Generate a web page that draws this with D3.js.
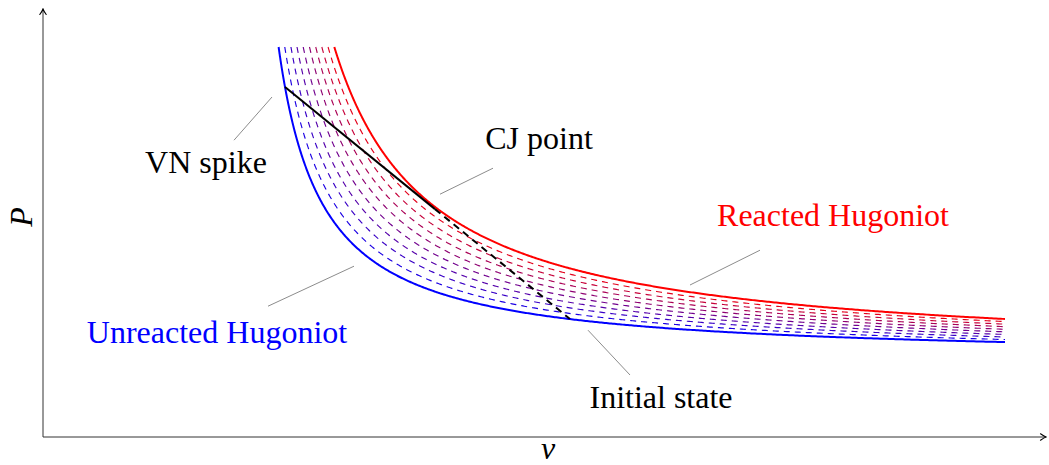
<!DOCTYPE html>
<html>
<head>
<meta charset="utf-8">
<script src="https://cdn.jsdelivr.net/npm/d3@7"></script>
<style>
  html, body { margin: 0; padding: 0; background: #fff; }
  svg { display: block; }
  text { font-family: "Liberation Serif", "Times New Roman", serif; }
</style>
</head>
<body>
<svg id="chart" width="1049" height="465"></svg>
<script>
// Hugoniot family P(v) = c + a / (v - b), from the unreacted curve (first)
// to the reacted curve (last); the eight in between are partially reacted.
const curveA = [3.41, 3.85, 4.29, 4.72, 5.16, 5.60, 6.04, 6.47, 6.91, 7.35];
const curveB = [1.920, 1.925, 1.930, 1.935, 1.940, 1.946, 1.951, 1.956, 1.961, 1.966];
const curveC = [1.930, 1.937, 1.943, 1.950, 1.957, 1.963, 1.970, 1.977, 1.983, 1.990];
const curveReacted = [0, 0.111, 0.222, 0.333, 0.444, 0.556, 0.667, 0.778, 0.889, 1];

// plotted range of the curves
const pressureMax = 9.75;
const volumeMax = 9.62;

// Rayleigh line: VN spike -> CJ point -> initial state, as [v, P]
const vnSpike = [2.42, 8.75];
const cjVolume = 3.92;
const initialState = [5.27, 2.95];

// labels [text, v, P, colour] and their leader lines [v1, P1, v2, P2]
const labelText = ["VN spike", "CJ point", "Reacted Hugoniot", "Unreacted Hugoniot", "Initial state"];
const labelV = [1.63, 4.96, 7.90, 1.74, 6.18];
const labelP = [6.60, 7.20, 5.28, 2.34, 0.72];
const labelColour = ["#000", "#000", "#ff0000", "#0000ff", "#000"];
const leaderFrom = [[1.91, 7.42], [3.97, 6.07], [6.47, 3.80], [2.25, 3.27], [5.45, 2.67]];
const leaderTo = [[2.29, 8.50], [4.50, 6.72], [7.17, 4.67], [3.11, 4.27], [5.87, 1.55]];

const svg = d3.select("#chart");
const x = d3.scaleLinear().domain([0, 10]).range([43, 1043]);
const y = d3.scaleLinear().domain([0, 10]).range([437, 37]);

// arrow head for the axes
svg.append("defs").append("marker")
  .attr("id", "arrow")
  .attr("viewBox", "-7 -4 8 8")
  .attr("refX", 0).attr("refY", 0)
  .attr("markerWidth", 8).attr("markerHeight", 8)
  .attr("markerUnits", "userSpaceOnUse")
  .attr("orient", "auto")
  .append("path")
  .attr("d", "M-5.5,-3.2 Q-1.8,-0.6 0,0 Q-1.8,0.6 -5.5,3.2")
  .attr("fill", "none")
  .attr("stroke", "#000")
  .attr("stroke-width", 1.1)
  .attr("stroke-linecap", "round");

// axes
svg.append("line")
  .attr("x1", x(0)).attr("y1", y(0))
  .attr("x2", x(10.03)).attr("y2", y(0))
  .attr("stroke", "#333").attr("stroke-width", 1)
  .attr("marker-end", "url(#arrow)");
svg.append("line")
  .attr("x1", x(0)).attr("y1", y(0))
  .attr("x2", x(0)).attr("y2", y(10.7))
  .attr("stroke", "#333").attr("stroke-width", 1)
  .attr("marker-end", "url(#arrow)");

svg.append("text")
  .attr("x", x(5.05)).attr("y", 459)
  .attr("text-anchor", "middle")
  .attr("font-size", 32).attr("font-style", "italic")
  .text("v");
svg.append("text")
  .attr("transform", `translate(32,${y(5.5)}) rotate(-90)`)
  .attr("text-anchor", "middle")
  .attr("font-size", 32).attr("font-style", "italic")
  .text("P");

// Hugoniot curves
const line = d3.line().x(d => x(d[0])).y(d => y(d[1]));
const colourMix = d3.interpolateRgb("#0000ff", "#ff0000");
const order = d3.range(curveA.length);
// dashed curves first, then the two solid bounding curves on top
const drawOrder = order.filter(i => i > 0 && i < curveA.length - 1).concat([0, curveA.length - 1]);

drawOrder.forEach(i => {
  const a = curveA[i], b = curveB[i], c = curveC[i];
  const vStart = b + a / (pressureMax - c);
  const n = 600;
  const pts = d3.range(n + 1).map(k => {
    // denser sampling near the steep top of the curve
    const s = k / n;
    const v = vStart + (volumeMax - vStart) * s * s;
    return [v, c + a / (v - b)];
  });
  const solid = i === 0 || i === curveA.length - 1;
  svg.append("path")
    .attr("d", line(pts))
    .attr("fill", "none")
    .attr("stroke", colourMix(curveReacted[i]))
    .attr("stroke-width", solid ? 2 : 1.15)
    .attr("stroke-dasharray", solid ? null : "6,5");
});

// Rayleigh line, solid up to the CJ point and dashed to the initial state
const slope = (initialState[1] - vnSpike[1]) / (initialState[0] - vnSpike[0]);
const cjPoint = [cjVolume, vnSpike[1] + slope * (cjVolume - vnSpike[0])];
svg.append("path")
  .attr("d", line([vnSpike, cjPoint]))
  .attr("fill", "none").attr("stroke", "#000").attr("stroke-width", 2);
svg.append("path")
  .attr("d", line([cjPoint, initialState]))
  .attr("fill", "none").attr("stroke", "#000").attr("stroke-width", 2)
  .attr("stroke-dasharray", "7,5");

// annotations
labelText.forEach((t, i) => {
  svg.append("line")
    .attr("x1", x(leaderFrom[i][0])).attr("y1", y(leaderFrom[i][1]))
    .attr("x2", x(leaderTo[i][0])).attr("y2", y(leaderTo[i][1]))
    .attr("stroke", "#8c8c8c").attr("stroke-width", 1);
  svg.append("text")
    .attr("x", x(labelV[i])).attr("y", y(labelP[i]))
    .attr("text-anchor", "middle")
    .attr("font-size", 32)
    .attr("fill", labelColour[i])
    .text(t);
});
</script>
</body>
</html>
